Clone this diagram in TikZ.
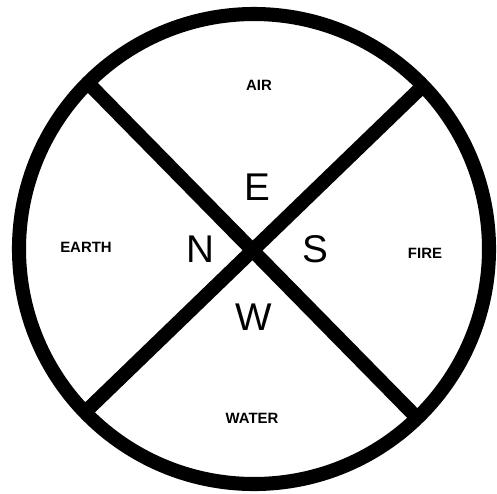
\documentclass[tikz,border=0pt]{standalone}
\usepackage{fontspec}
\setmainfont{Liberation Sans}

\begin{document}
\begin{tikzpicture}[scale=1.0, line width=8pt,
    small/.style={font=\fontsize{8.5}{10}\selectfont\bfseries},
    big/.style={font=\fontsize{22}{26}\selectfont}]
  \useasboundingbox (-5.08, -4.88) rectangle (4.86, 4.98);
  \coordinate (O) at (0, 0);
  \draw (O) circle (4.7);
  \coordinate (A) at ({4.7*cos(135)}, {4.7*sin(135)});
  \coordinate (B) at ({4.7*cos( 44)}, {4.7*sin( 44)});
  \coordinate (C) at ({4.7*cos(-46)}, {4.7*sin(-46)});
  \coordinate (D) at ({4.7*cos(224)}, {4.7*sin(224)});

  \draw (A) -- (C);
  \draw (B) -- (D);

  \node[small] (air)   at (0.10, 3.28)  {AIR};
  \node[small] (earth) at (-3.36, 0.03) {EARTH};
  \node[small] (fire)  at (3.42, -0.08) {FIRE};
  \node[small] (water) at (-0.04, -3.38) {WATER};

  \node[big] (e) at (0.06, 1.24)  {E};
  \node[big] (n) at (-1.08, 0)    {N};
  \node[big] (s) at (1.22, 0)     {S};
  \node[big] (w) at (0, -1.36)    {W};
\end{tikzpicture}
\end{document}
